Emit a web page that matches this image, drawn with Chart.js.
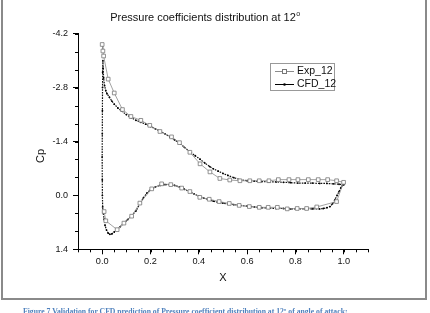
<!DOCTYPE html>
<html>
<head>
<meta charset="utf-8">
<script src="https://cdn.jsdelivr.net/npm/chart.js@4.4.1/dist/chart.umd.min.js"></script>
<style>
    html, body { margin: 0; padding: 0; background: #fff; }
    #wrap { position: relative; width: 430px; height: 313px; overflow: hidden; }
    #frame { position: absolute; left: 1px; top: -5px; width: 422px; height: 301px; border: 2px solid #8a8a8a; }
    #chart { position: absolute; left: 0; top: 0; }
    #caption { position: absolute; left: 23px; top: 306.7px; line-height: 8px; font: bold 7.7px "Liberation Serif", "Times New Roman", serif; color: #4f81bd; white-space: nowrap; }
</style>
</head>
<body>
<div id="wrap">
    <div id="frame"></div>
    <canvas id="chart" width="430" height="313"></canvas>
    <div id="caption">Figure 7 Validation for CFD prediction of Pressure coefficient distribution at 12º of angle of attack:</div>
</div>
<script>
// Experimental points: upper surface LE -> TE, then lower surface TE -> LE
const expX = [0.000, 0.003, 0.006, 0.025, 0.050, 0.084, 0.119, 0.160, 0.197, 0.239, 0.287, 0.320, 0.363, 0.405, 0.446, 0.487, 0.528, 0.570, 0.611, 0.650, 0.690, 0.729, 0.773, 0.810, 0.853, 0.894, 0.933, 0.970, 0.999,
              0.970, 0.888, 0.846, 0.807, 0.766, 0.725, 0.687, 0.650, 0.609, 0.567, 0.526, 0.484, 0.443, 0.404, 0.363, 0.329, 0.284, 0.246, 0.205, 0.156, 0.122, 0.090, 0.062, 0.015, 0.008];
const expCp = [-3.92, -3.75, -3.62, -3.02, -2.66, -2.23, -2.05, -1.95, -1.82, -1.66, -1.52, -1.37, -1.12, -0.82, -0.61, -0.44, -0.40, -0.38, -0.38, -0.38, -0.38, -0.41, -0.41, -0.41, -0.41, -0.41, -0.41, -0.38, -0.34,
               0.16, 0.30, 0.34, 0.34, 0.35, 0.31, 0.31, 0.31, 0.29, 0.26, 0.21, 0.16, 0.10, 0.05, -0.10, -0.19, -0.28, -0.30, -0.17, 0.20, 0.54, 0.72, 0.89, 0.66, 0.42];

// CFD curve: upper surface TE -> LE, then lower surface LE -> TE
const cfdX = [1.000, 0.980, 0.957, 0.930, 0.900, 0.870, 0.840, 0.810, 0.780, 0.750, 0.720, 0.690, 0.660, 0.630, 0.600, 0.570, 0.545, 0.520, 0.500, 0.480, 0.460, 0.445, 0.425, 0.405, 0.385, 0.363, 0.340, 0.320,
              0.300, 0.280, 0.260, 0.240, 0.220, 0.200, 0.180, 0.160, 0.140, 0.120, 0.100, 0.080, 0.065, 0.050, 0.040, 0.030, 0.020, 0.015, 0.010, 0.006, 0.004, 0.003,
              0.002, 0.0015, 0.001, 0.0005, 0.000, 0.0005, 0.001, 0.002, 0.004, 0.008, 0.012, 0.018, 0.025, 0.032, 0.040, 0.050, 0.062, 0.075, 0.090, 0.105, 0.122, 0.140, 0.156, 0.170, 0.185,
              0.200, 0.220, 0.240, 0.260, 0.280, 0.300, 0.320, 0.340, 0.360, 0.380, 0.400, 0.420, 0.440, 0.460, 0.480, 0.500, 0.520, 0.545, 0.570, 0.600, 0.630, 0.660, 0.690, 0.720, 0.750,
              0.780, 0.810, 0.840, 0.870, 0.900, 0.915, 0.930, 0.943, 0.953, 0.963, 0.972, 0.980, 0.988, 0.995, 1.000];
const cfdCp = [-0.28, -0.29, -0.30, -0.31, -0.31, -0.32, -0.32, -0.32, -0.33, -0.34, -0.35, -0.35, -0.36, -0.37, -0.38, -0.41, -0.46, -0.52, -0.57, -0.63, -0.69, -0.75, -0.84, -0.94, -1.03, -1.13, -1.25, -1.36,
               -1.44, -1.52, -1.60, -1.67, -1.73, -1.79, -1.85, -1.90, -1.95, -2.02, -2.10, -2.19, -2.27, -2.37, -2.45, -2.55, -2.64, -2.72, -2.85, -3.05, -3.30, -3.50,
               -3.20, -2.80, -2.20, -1.60, -1.00, -0.40, 0.00, 0.30, 0.45, 0.62, 0.78, 0.90, 0.98, 1.01, 1.00, 0.95, 0.89, 0.81, 0.72, 0.63, 0.53, 0.40, 0.22, 0.07, -0.06,
               -0.15, -0.22, -0.26, -0.28, -0.28, -0.26, -0.22, -0.16, -0.10, -0.04, 0.02, 0.07, 0.11, 0.15, 0.18, 0.20, 0.22, 0.24, 0.26, 0.28, 0.30, 0.32, 0.33, 0.34, 0.34,
               0.35, 0.35, 0.35, 0.35, 0.35, 0.34, 0.32, 0.29, 0.22, 0.11, 0.00, -0.10, -0.20, -0.27, -0.28];

const xTickLabels = [0.0, 0.2, 0.4, 0.6, 0.8, 1.0];
const yTickLabels = [-4.2, -2.8, -1.4, 0.0, 1.4];
const seriesNames = ['Exp_12', 'CFD_12'];

const FONT = '"Liberation Sans", Arial, sans-serif';

function toPoints(xs, ys) {
    return xs.map((x, i) => ({ x: x, y: ys[i] }));
}

// Minor ticks, title, axis titles and legend box
const figureText = {
    id: 'figureText',
    afterDraw(chart) {
        const ctx = chart.ctx;
        const xs = chart.scales.x;
        const ys = chart.scales.y;
        ctx.save();

        // minor ticks
        ctx.strokeStyle = '#000';
        ctx.lineWidth = 1;
        ctx.beginPath();
        for (let v = -0.1; v <= 1.1001; v += 0.05) {
            const px = Math.round(xs.getPixelForValue(v)) + 0.5;
            ctx.moveTo(px, ys.bottom);
            ctx.lineTo(px, ys.bottom + 3);
        }
        const yStep = (yTickLabels[1] - yTickLabels[0]) / 3;
        for (let v = yTickLabels[0]; v <= yTickLabels[yTickLabels.length - 1] + 0.001; v += yStep) {
            const py = Math.round(ys.getPixelForValue(v)) + 0.5;
            ctx.moveTo(xs.left, py);
            ctx.lineTo(xs.left - 3, py);
        }
        ctx.stroke();

        ctx.fillStyle = '#111';
        // title
        ctx.font = '11px ' + FONT;
        ctx.textBaseline = 'middle';
        ctx.textAlign = 'left';
        const title = 'Pressure coefficients distribution at 12';
        const tw = ctx.measureText(title).width;
        const tx = 205 - (tw + 4) / 2;
        ctx.fillText(title, tx, 18);
        ctx.font = '7px ' + FONT;
        ctx.fillText('o', tx + tw + 0.5, 14);

        // axis titles
        ctx.font = '11px ' + FONT;
        ctx.textAlign = 'center';
        ctx.fillText('X', (xs.left + xs.right) / 2, 278);
        ctx.save();
        ctx.translate(41, 156);
        ctx.rotate(-Math.PI / 2);
        ctx.fillText('Cp', 0, 0);
        ctx.restore();

        // legend
        ctx.strokeStyle = '#999';
        ctx.lineWidth = 1;
        ctx.strokeRect(270.5, 63.5, 64, 27);
        ctx.textAlign = 'left';
        ctx.font = '10.5px ' + FONT;
        ctx.fillStyle = '#111';
        ctx.fillText(seriesNames[0], 297, 71);
        ctx.fillText(seriesNames[1], 297, 84);
        ctx.strokeStyle = '#8c8c8c';
        ctx.beginPath();
        ctx.moveTo(275, 71.5); ctx.lineTo(294, 71.5);
        ctx.stroke();
        ctx.fillStyle = '#fff';
        ctx.fillRect(282, 69, 5, 5);
        ctx.strokeStyle = '#777';
        ctx.strokeRect(282.5, 69.5, 4, 4);
        ctx.strokeStyle = '#000';
        ctx.beginPath();
        ctx.moveTo(275, 84.5); ctx.lineTo(294, 84.5);
        ctx.stroke();
        ctx.fillStyle = '#000';
        ctx.beginPath();
        ctx.arc(284.5, 84.5, 1.3, 0, Math.PI * 2);
        ctx.fill();

        ctx.restore();
    }
};

new Chart(document.getElementById('chart'), {
    type: 'scatter',
    data: {
        datasets: [
            {
                label: seriesNames[0],
                data: toPoints(expX, expCp),
                showLine: true,
                borderColor: '#8c8c8c',
                borderWidth: 0.8,
                pointStyle: 'rect',
                pointRadius: 2.6,
                pointBackgroundColor: '#fff',
                pointBorderColor: '#777',
                pointBorderWidth: 0.8,
                order: 0
            },
            {
                label: seriesNames[1],
                data: toPoints(cfdX, cfdCp),
                showLine: true,
                borderColor: '#111',
                borderWidth: 1.2,
                borderDash: [1.6, 1.1],
                pointRadius: 0.9,
                pointBackgroundColor: '#000',
                pointBorderWidth: 0,
                order: 1
            }
        ]
    },
    options: {
        responsive: false,
        animation: false,
        layout: { padding: { top: 33.7, right: 62, left: 0, bottom: 0 } },
        plugins: {
            legend: { display: false },
            tooltip: { enabled: false }
        },
        scales: {
            x: {
                type: 'linear',
                min: -0.1,
                max: 1.1,
                afterFit: s => { s.height = 63.7; },
                afterBuildTicks: s => { s.ticks = xTickLabels.map(v => ({ value: v })); },
                border: { display: true, color: '#000', width: 1 },
                grid: { drawOnChartArea: false, drawTicks: true, tickLength: 5, tickColor: '#000' },
                ticks: {
                    padding: 2,
                    color: '#111',
                    font: { family: FONT, size: 9.2 },
                    maxRotation: 0,
                    callback: v => Number(v).toFixed(1)
                }
            },
            y: {
                type: 'linear',
                reverse: true,
                min: -4.2,
                max: 1.4,
                afterFit: s => { s.width = 78; },
                afterBuildTicks: s => { s.ticks = yTickLabels.map(v => ({ value: v })); },
                border: { display: true, color: '#000', width: 1 },
                grid: { drawOnChartArea: false, drawTicks: true, tickLength: 5, tickColor: '#000' },
                ticks: {
                    padding: 5,
                    color: '#111',
                    font: { family: FONT, size: 9 },
                    callback: v => Number(v).toFixed(1)
                }
            }
        }
    },
    plugins: [figureText]
});
</script>
</body>
</html>
